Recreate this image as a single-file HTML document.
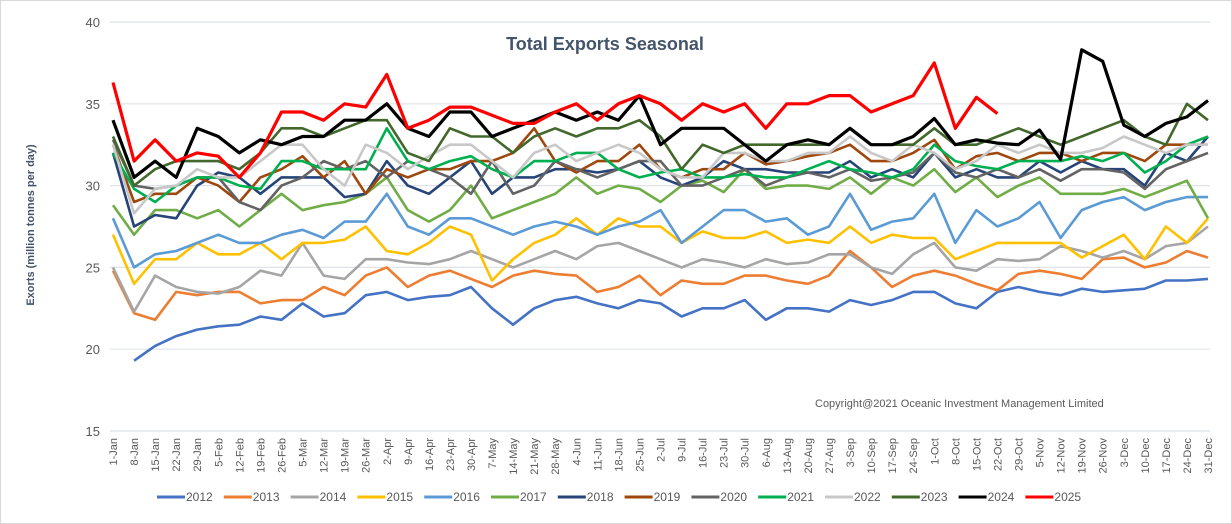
<!DOCTYPE html>
<html><head><meta charset="utf-8"><style>
body{margin:0;background:#fff;}
#wrap{position:relative;width:1232px;height:524px;overflow:hidden;font-family:"Liberation Sans",sans-serif;}
svg text{font-family:"Liberation Sans",sans-serif;}
</style></head><body>
<div id="wrap">
<svg id="chart" width="1232" height="524">
<rect x="0.5" y="0.5" width="1231" height="523" fill="#fff" stroke="#d9d9d9"/>
<text x="605" y="50" text-anchor="middle" font-size="18" font-weight="bold" fill="#44546a">Total Exports Seasonal</text>
<text transform="translate(34,225) rotate(-90)" text-anchor="middle" font-size="11" font-weight="bold" fill="#44546a">Exorts (million tonnes per day)</text>
<text x="815" y="407" font-size="11" fill="#595959">Copyright@2021 Oceanic Investment Management Limited</text>
<g id="grid"></g><g id="xt"></g><g id="series"></g><g id="legend"></g>
</svg>
</div>
<script>
const yTicks=[15,20,25,30,35,40];
const xLabels=["1-Jan","8-Jan","15-Jan","22-Jan","29-Jan","5-Feb","12-Feb","19-Feb","26-Feb","5-Mar","12-Mar","19-Mar","26-Mar","2-Apr","9-Apr","16-Apr","23-Apr","30-Apr","7-May","14-May","21-May","28-May","4-Jun","11-Jun","18-Jun","25-Jun","2-Jul","9-Jul","16-Jul","23-Jul","30-Jul","6-Aug","13-Aug","20-Aug","27-Aug","3-Sep","10-Sep","17-Sep","24-Sep","1-Oct","8-Oct","15-Oct","22-Oct","29-Oct","5-Nov","12-Nov","19-Nov","26-Nov","3-Dec","10-Dec","17-Dec","24-Dec","31-Dec"];
const years=["2012","2013","2014","2015","2016","2017","2018","2019","2020","2021","2022","2023","2024","2025"];
const colors=["#4472c4","#ed7d31","#a5a5a5","#ffc000","#5b9bd5","#70ad47","#264478","#9e480e","#636363","#00b050","#c8c8c8","#43682b","#000000","#ff0000"];
const s2012=[null,19.3,20.2,20.8,21.2,21.4,21.5,22.0,21.8,22.8,22.0,22.2,23.3,23.5,23.0,23.2,23.3,23.8,22.5,21.5,22.5,23.0,23.2,22.8,22.5,23.0,22.8,22.0,22.5,22.5,23.0,21.8,22.5,22.5,22.3,23.0,22.7,23.0,23.5,23.5,22.8,22.5,23.5,23.8,23.5,23.3,23.7,23.5,23.6,23.7,24.2,24.2,24.3];
const s2013=[24.8,22.2,21.8,23.5,23.3,23.5,23.5,22.8,23.0,23.0,23.8,23.3,24.5,25.0,23.8,24.5,24.8,24.3,23.8,24.5,24.8,24.6,24.5,23.5,23.8,24.5,23.3,24.2,24.0,24.0,24.5,24.5,24.2,24.0,24.5,26.0,25.0,23.8,24.5,24.8,24.5,24.0,23.6,24.6,24.8,24.6,24.3,25.5,25.6,25.0,25.3,26.0,25.6];
const s2014=[25.0,22.3,24.5,23.8,23.5,23.4,23.8,24.8,24.5,26.5,24.5,24.3,25.5,25.5,25.3,25.2,25.5,26.0,25.5,25.0,25.5,26.0,25.5,26.3,26.5,26.0,25.5,25.0,25.5,25.3,25.0,25.5,25.2,25.3,25.8,25.8,25.0,24.6,25.8,26.5,25.0,24.8,25.5,25.4,25.5,26.3,26.0,25.6,26.0,25.5,26.3,26.5,27.5];
const s2015=[27.0,24.0,25.5,25.5,26.5,25.8,25.8,26.5,25.5,26.5,26.5,26.7,27.5,26.0,25.8,26.5,27.5,27.0,24.2,25.5,26.5,27.0,28.0,27.0,28.0,27.5,27.5,26.5,27.2,26.8,26.8,27.2,26.5,26.7,26.5,27.5,26.5,27.0,26.8,26.8,25.5,26.0,26.5,26.5,26.5,26.5,25.6,26.3,27.0,25.5,27.5,26.5,28.0];
const s2016=[28.0,25.0,25.8,26.0,26.5,27.0,26.5,26.5,27.0,27.3,26.8,27.8,27.8,29.5,27.5,27.0,28.0,28.0,27.5,27.0,27.5,27.8,27.5,27.0,27.5,27.8,28.5,26.5,27.5,28.5,28.5,27.8,28.0,27.0,27.5,29.5,27.3,27.8,28.0,29.5,26.5,28.5,27.5,28.0,29.0,26.8,28.5,29.0,29.3,28.5,29.0,29.3,29.3];
const s2017=[28.8,27.0,28.5,28.5,28.0,28.5,27.5,28.5,29.5,28.5,28.8,29.0,29.5,30.5,28.5,27.8,28.5,30.0,28.0,28.5,29.0,29.5,30.5,29.5,30.0,29.8,29.0,30.0,30.3,29.6,31.0,29.8,30.0,30.0,29.8,30.5,29.5,30.5,30.0,31.0,29.6,30.5,29.3,30.0,30.5,29.5,29.5,29.5,29.8,29.3,29.8,30.3,28.0];
const s2018=[32.0,27.5,28.2,28.0,30.0,30.8,30.5,29.5,30.5,30.5,30.5,29.3,29.5,31.5,30.0,29.5,30.5,31.5,29.5,30.5,30.5,31.0,31.0,30.8,31.0,31.5,30.5,30.0,30.5,31.5,31.0,31.0,30.8,30.8,30.8,31.5,30.5,31.0,30.5,32.0,30.5,31.0,30.5,30.5,31.5,30.8,31.5,31.0,31.0,30.0,32.0,31.5,33.0];
const s2019=[32.5,29.0,29.5,29.5,30.5,30.0,29.0,30.5,31.0,31.8,30.5,31.5,29.5,31.0,30.5,31.0,31.0,31.5,31.5,32.0,33.5,31.5,30.8,31.5,31.5,32.5,31.0,30.5,31.0,31.0,32.0,31.3,31.5,31.8,32.0,32.5,31.5,31.5,32.0,32.8,31.0,31.8,32.0,31.5,32.0,32.0,31.5,32.0,32.0,31.5,32.5,32.5,32.5];
const s2020=[32.8,30.0,29.8,30.0,30.5,30.5,29.0,28.5,30.0,30.5,31.5,31.0,31.5,30.5,31.5,31.0,30.5,29.5,31.5,29.5,30.0,31.5,31.0,30.5,31.0,31.5,31.5,30.0,30.0,30.5,31.0,30.0,30.5,30.8,30.5,31.0,30.3,30.5,30.8,32.0,30.8,30.5,31.0,30.5,31.0,30.3,31.0,31.0,30.8,29.8,31.0,31.5,32.0];
const s2021=[32.0,29.8,29.0,30.0,30.5,30.5,30.0,29.8,31.5,31.5,31.0,31.0,31.0,33.5,31.5,31.0,31.5,31.8,31.0,30.5,31.5,31.5,32.0,32.0,31.0,30.5,30.8,31.0,30.5,30.5,30.7,30.5,30.5,31.0,31.5,31.0,30.8,30.5,31.0,32.5,31.5,31.2,31.0,31.5,31.5,31.5,31.8,31.5,32.0,30.8,31.5,32.5,33.0];
const s2022=[32.5,28.3,29.8,30.0,31.0,30.5,30.5,31.5,32.5,32.5,31.0,30.0,32.5,32.0,31.0,31.8,32.5,32.5,31.5,30.5,32.0,32.5,31.5,32.0,32.5,32.0,31.0,30.5,30.5,32.0,32.0,31.5,31.5,32.0,32.0,33.0,32.0,31.5,32.5,32.0,31.0,31.5,32.5,32.0,32.5,32.0,32.0,32.3,33.0,32.5,32.0,32.5,32.5];
const s2023=[33.0,30.0,31.0,31.5,31.5,31.5,31.0,32.0,33.5,33.5,33.0,33.5,34.0,34.0,32.0,31.5,33.5,33.0,33.0,32.0,33.0,33.5,33.0,33.5,33.5,34.0,33.0,31.0,32.5,32.0,32.5,32.5,32.5,32.5,32.5,33.5,32.5,32.5,32.5,33.5,32.5,32.5,33.0,33.5,33.0,32.5,33.0,33.5,34.0,33.0,32.5,35.0,34.0];
const s2024=[34.0,30.5,31.5,30.5,33.5,33.0,32.0,32.8,32.5,33.0,33.0,34.0,34.0,35.0,33.5,33.0,34.5,34.5,33.0,33.5,34.0,34.5,34.0,34.5,34.0,35.5,32.5,33.5,33.5,33.5,32.5,31.5,32.5,32.8,32.5,33.5,32.5,32.5,33.0,34.1,32.5,32.8,32.6,32.5,33.4,31.6,38.3,37.6,33.7,33.0,33.8,34.2,35.2];
const s2025=[36.3,31.5,32.8,31.5,32.0,31.8,30.5,32.0,34.5,34.5,34.0,35.0,34.8,36.8,33.5,34.0,34.8,34.8,34.3,33.8,33.8,34.5,35.0,34.0,35.0,35.5,35.0,34.0,35.0,34.5,35.0,33.5,35.0,35.0,35.5,35.5,34.5,35.0,35.5,37.5,33.5,35.4,34.4];
const allSeries=[s2012,s2013,s2014,s2015,s2016,s2017,s2018,s2019,s2020,s2021,s2022,s2023,s2024,s2025];

const NS="http://www.w3.org/2000/svg";
const X0=113,X1=1208,Y0=431,Y1=22,VMIN=15,VMAX=40;
function xs(i){return X0+(X1-X0)*i/(xLabels.length-1);}
function ys(v){return Y0-(v-VMIN)*(Y0-Y1)/(VMAX-VMIN);}
function mk(tag,attrs,parent){const e=document.createElementNS(NS,tag);for(const k in attrs)e.setAttribute(k,attrs[k]);parent.appendChild(e);return e;}

const grid=document.getElementById('grid');
yTicks.forEach(t=>{
  const l=mk('line',{x1:110,x2:1210,y1:ys(t),y2:ys(t),stroke:'#dfe3e8','stroke-width':1.2},grid);
  
  
  const tx=mk('text',{x:100,y:ys(t)+5,'text-anchor':'end','font-size':13,fill:'#595959'},grid);
  tx.textContent=t;
  
  
});
const xt=document.getElementById('xt');
xLabels.forEach((lab,i)=>{
  const tx=mk('text',{transform:`translate(${xs(i)+4},438) rotate(-90)`,'text-anchor':'end','font-size':11,fill:'#595959'},xt);
  tx.textContent=lab;
  
  
});
const sg=document.getElementById('series');
allSeries.forEach((arr,si)=>{
  let d='',pen=false;
  arr.forEach((v,i)=>{
    if(v===null){pen=false;return;}
    d+=(pen?'L':'M')+xs(i).toFixed(1)+','+ys(v).toFixed(1);pen=true;
  });
  const p=mk('path',{d:d,fill:'none',stroke:colors[si],'stroke-width':si>=12?3.2:2.6,'stroke-linejoin':'round'},sg);
  
  
});
const lg=document.getElementById('legend');
years.forEach((y,i)=>{
  const x=157+i*66.8;
  const g=mk('g',{},lg);
  
  
  mk('line',{x1:x,x2:x+28,y1:497,y2:497,stroke:colors[i],'stroke-width':3},g);
  const t=mk('text',{x:x+29,y:501,'font-size':12,fill:'#595959'},g);
  t.textContent=y;
});
</script>
</body></html>
